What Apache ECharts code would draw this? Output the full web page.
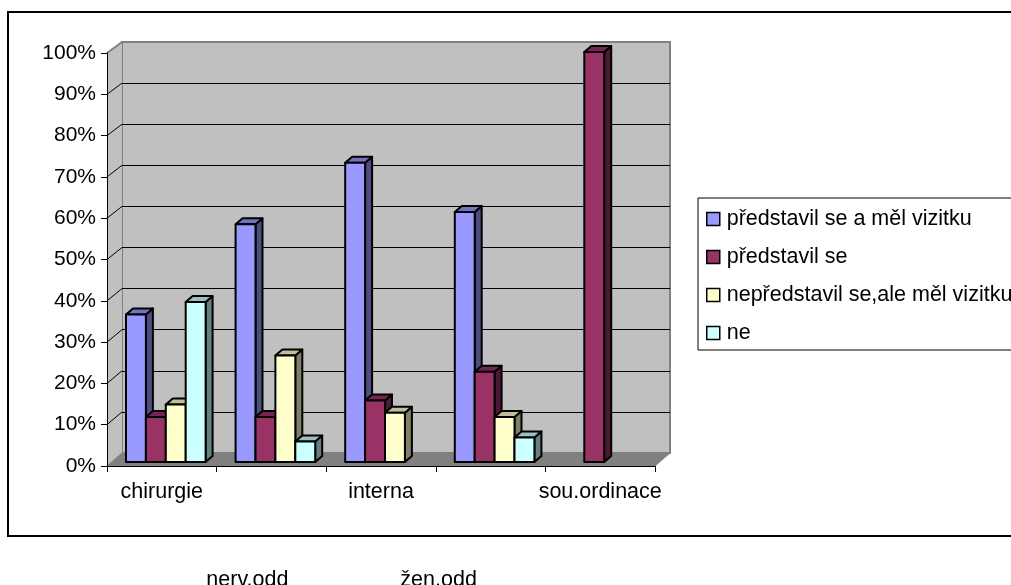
<!DOCTYPE html>
<html>
<head>
<meta charset="utf-8">
<style>html,body{margin:0;padding:0;background:#fff;overflow:hidden}#chart{width:1011px;height:585px}</style>
<script src="https://cdn.jsdelivr.net/npm/echarts@6/dist/echarts.min.js"></script>
</head>
<body>
<div id="chart"></div>
<script>
const categories = ['chirurgie', 'nerv.odd', 'interna', 'žen.odd', 'sou.ordinace'];
const seriesNames = ['představil se a měl vizitku', 'představil se', 'nepředstavil se,ale měl vizitku', 'ne'];
const introducedWithCard = [36, 58, 73, 61, 0];
const introducedOnly = [11, 11, 15, 22, 100];
const cardOnly = [14, 26, 12, 11, 0];
const neither = [39, 5, 0, 6, 0];
const wallTicks = [0, 10, 20, 30, 40, 50, 60, 70, 80, 90, 100];

const seriesValues = [introducedWithCard, introducedOnly, cardOnly, neither];
const palette = [
  { front: '#9999ff', side: '#4d4d80', top: '#7373bf' },
  { front: '#993366', side: '#4d1a33', top: '#732650' },
  { front: '#ffffcc', side: '#808066', top: '#bfbf99' },
  { front: '#ccffff', side: '#668080', top: '#99bfbf' }
];

const FONT = '"Liberation Sans", Arial, sans-serif';
const BAR_SHARE = 0.1816;
const BAR_DEPTH = [7, -6];
const WALL_DX = 15;
const wallDy = v => -13 + 0.02 * v;

// Left wall, floor and the slanted gridline stubs joining the front axis to the back wall.
function renderWalls(params, api) {
  const v = api.value(1);
  const band = api.size([1, 0])[0];
  const p = api.coord([0, v]);
  const x0 = p[0] - band / 2;
  const y = p[1];
  const dy = wallDy(v);
  const children = [];
  if (v === 0) {
    const top = api.coord([0, 100])[1];
    children.push({
      type: 'polygon',
      shape: { points: [[x0, top], [x0 + WALL_DX, top + wallDy(100)], [x0 + WALL_DX, y + dy], [x0, y]] },
      style: { fill: '#c0c0c0', stroke: null }
    });
    const x1 = x0 + band * categories.length;
    children.push({
      type: 'polygon',
      shape: { points: [[x0, y], [x0 + WALL_DX, y + dy], [x1 + WALL_DX, y + dy], [x1, y]] },
      style: { fill: '#808080', stroke: '#808080', lineWidth: 1 }
    });
  } else {
    children.push({
      type: 'line',
      shape: { x1: x0, y1: y, x2: x0 + WALL_DX, y2: y + dy },
      style: { stroke: v === 100 ? '#808080' : '#000', lineWidth: v === 100 ? 2 : 1 }
    });
  }
  return { type: 'group', children };
}

// One extruded column: side and top faces behind the front face.
function makeBarRenderer(seriesIndex) {
  return function (params, api) {
    const value = api.value(1);
    if (!value) return null;
    const colors = palette[seriesIndex];
    const band = api.size([1, 0])[0];
    const w = band * BAR_SHARE;
    const top = api.coord([api.value(0), value]);
    const base = api.coord([api.value(0), 0]);
    const l = top[0] + (seriesIndex - 2) * w;
    const r = l + w;
    const t = top[1];
    const b = base[1];
    const [dx, dy] = BAR_DEPTH;
    const edge = { stroke: '#000', lineWidth: 2, lineJoin: 'round' };
    return {
      type: 'group',
      children: [
        { type: 'polygon', shape: { points: [[r, t], [r + dx, t + dy], [r + dx, b + dy], [r, b]] }, style: { fill: colors.side, ...edge } },
        { type: 'polygon', shape: { points: [[l, t], [l + dx, t + dy], [r + dx, t + dy], [r, t]] }, style: { fill: colors.top, ...edge } },
        { type: 'polygon', shape: { points: [[l, t], [r, t], [r, b], [l, b]] }, style: { fill: colors.front, ...edge } }
      ]
    };
  };
}

const chart = echarts.init(document.getElementById('chart'), null, { renderer: 'canvas' });

const hiddenAxis = { show: false };
const lowLabel = { color: '#000', fontFamily: FONT, fontSize: 21.5 };
const option = {
  animation: false,
  backgroundColor: '#fff',
  textStyle: { fontFamily: FONT },
  graphic: [{
    type: 'rect',
    z: -1,
    shape: { x: 8, y: 12, width: 1100, height: 524 },
    style: { fill: '#fff', stroke: '#000', lineWidth: 2 }
  }],
  legend: {
    orient: 'vertical',
    left: 698,
    top: 198,
    padding: [10, 40, 6, 8],
    itemGap: 16,
    itemWidth: 13,
    itemHeight: 13,
    icon: 'rect',
    borderColor: '#000',
    borderWidth: 1,
    borderRadius: 0,
    backgroundColor: '#fff',
    itemStyle: { borderColor: '#000', borderWidth: 1.5 },
    textStyle: { color: '#000', fontFamily: FONT, fontSize: 21.5, padding: [0, 0, 0, 2] },
    data: seriesNames
  },
  grid: [
    { left: 107, top: 53, width: 548, height: 413, outerBoundsMode: 'none' },
    { left: 122, top: 42, width: 548, height: 411, show: true, backgroundColor: '#c0c0c0', borderColor: '#808080', borderWidth: 2, outerBoundsMode: 'none' },
    { left: 111, top: 52, width: 548, height: 410, outerBoundsMode: 'none' }
  ],
  xAxis: [
    {
      gridIndex: 0,
      type: 'category',
      data: categories,
      z: 4,
      axisLine: { lineStyle: { color: '#000', width: 1 } },
      axisTick: { show: true, alignWithLabel: false, length: 6, lineStyle: { color: '#000' } },
      axisLabel: {
        interval: 0,
        hideOverlap: false,
        margin: 15,
        color: '#000',
        fontFamily: FONT,
        fontSize: 21.5,
        formatter: (value, index) => index % 2 ? '{low' + index + '|' + value + '}' : '{high|' + value + '}',
        rich: {
          high: lowLabel,
          low1: { ...lowLabel, padding: [88, 48, 0, 0] },
          low3: { ...lowLabel, padding: [88, 104, 0, 0] }
        }
      }
    },
    { gridIndex: 1, type: 'category', data: categories, ...hiddenAxis },
    { gridIndex: 2, type: 'category', data: categories, ...hiddenAxis }
  ],
  yAxis: [
    {
      gridIndex: 0,
      type: 'value',
      min: 0,
      max: 100,
      interval: 10,
      z: 4,
      axisLine: { show: true, lineStyle: { color: '#000', width: 1 } },
      axisTick: { show: true, length: 6, lineStyle: { color: '#000' } },
      axisLabel: { margin: 11, color: '#000', fontFamily: FONT, fontSize: 21, formatter: '{value}%' },
      splitLine: { show: false }
    },
    {
      gridIndex: 1,
      type: 'value',
      min: 0,
      max: 100,
      interval: 10,
      axisLine: { show: false },
      axisTick: { show: false },
      axisLabel: { show: false },
      splitLine: { show: true, showMinLine: false, showMaxLine: false, lineStyle: { color: '#000', width: 1 } }
    },
    { gridIndex: 2, type: 'value', min: 0, max: 100, ...hiddenAxis }
  ],
  series: [
    {
      type: 'custom',
      name: 'walls',
      xAxisIndex: 0,
      yAxisIndex: 0,
      z: 1,
      silent: true,
      clip: false,
      renderItem: renderWalls,
      encode: { x: 0, y: 1 },
      data: wallTicks.map(v => [0, v])
    },
    ...seriesNames.map((name, s) => ({
      type: 'custom',
      name,
      xAxisIndex: 2,
      yAxisIndex: 2,
      z: 5 + s,
      clip: false,
      itemStyle: { color: palette[s].front },
      renderItem: makeBarRenderer(s),
      encode: { x: 0, y: 1 },
      data: seriesValues[s].map((v, i) => [i, v])
    }))
  ]
};
chart.setOption(option);
</script>
</body>
</html>
